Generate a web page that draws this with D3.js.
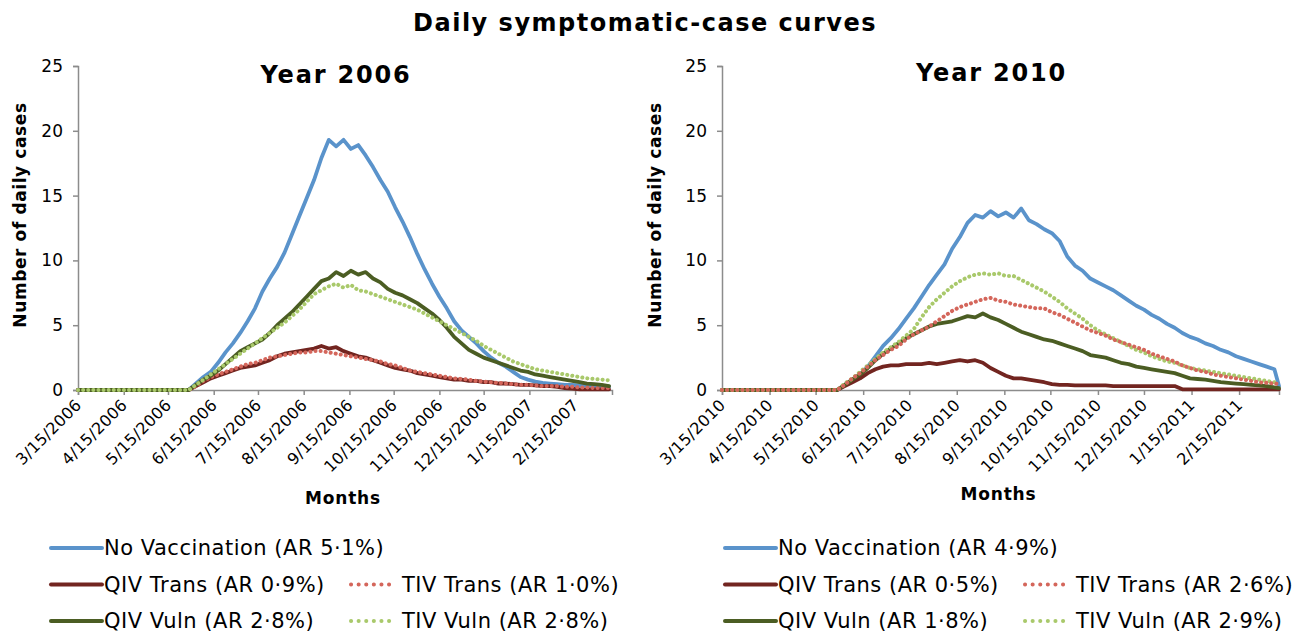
<!DOCTYPE html>
<html>
<head>
<meta charset="utf-8">
<script src="https://cdn.jsdelivr.net/npm/d3@7"></script>
<style>
  body { margin: 0; background: #fff; }
  svg { display: block; font-family: "DejaVu Sans", sans-serif; }
</style>
</head>
<body>
<script>
// days after 3/15 of each season
const days2006 = [0,75,80,85,90,95,100,105,110,115,120,125,130,135,140,145,150,155,160,165,170,175,180,185,190,195,200,205,210,215,220,225,230,235,240,245,250,255,260,265,270,275,280,285,290,295,300,305,310,315,320,325,330,335,340,345,350,355,360];
const days2010 = [0,75,80,85,90,95,100,105,110,115,120,125,130,135,140,145,150,155,160,165,170,175,180,185,190,195,200,205,210,215,220,225,230,235,240,245,250,255,260,265,270,275,280,285,290,295,300,305,310,315,320,325,330,335,340,345,350,355,360,363];

const noVacc2006 = [0,0,0.5,1.0,1.4,2.1,2.9,3.6,4.4,5.3,6.3,7.6,8.6,9.5,10.6,12.0,13.4,14.8,16.2,17.9,19.3,18.8,19.3,18.6,18.9,18.1,17.2,16.2,15.3,14.1,13.0,11.8,10.5,9.3,8.2,7.2,6.3,5.3,4.6,4.1,3.6,3.0,2.5,2.1,1.8,1.4,1.0,0.8,0.65,0.55,0.5,0.45,0.4,0.4,0.35,0.35,0.3,0.3,0.25];
const qivTrans2006 = [0,0,0.3,0.6,0.9,1.1,1.3,1.5,1.7,1.8,1.9,2.1,2.3,2.6,2.8,2.9,3.0,3.1,3.2,3.4,3.2,3.3,3.0,2.8,2.6,2.5,2.3,2.1,1.9,1.7,1.6,1.5,1.3,1.2,1.1,1.0,0.9,0.8,0.8,0.7,0.7,0.6,0.6,0.5,0.5,0.45,0.4,0.4,0.35,0.3,0.3,0.25,0.15,0.1,0.05,0.05,0.05,0.05,0.05];
const tivTrans2006 = [0,0,0.3,0.7,1.0,1.2,1.4,1.6,1.8,2.0,2.1,2.3,2.5,2.6,2.7,2.8,2.9,2.9,3.0,3.0,2.9,2.8,2.7,2.6,2.5,2.4,2.3,2.2,2.0,1.9,1.7,1.5,1.4,1.3,1.2,1.1,1.0,0.9,0.85,0.8,0.7,0.65,0.6,0.55,0.5,0.45,0.4,0.4,0.35,0.3,0.3,0.3,0.25,0.25,0.2,0.2,0.15,0.15,0.15];
const qivVuln2006 = [0,0,0.4,0.8,1.1,1.5,2.0,2.5,3.0,3.3,3.6,3.9,4.4,5.0,5.5,6.0,6.6,7.2,7.8,8.4,8.6,9.1,8.8,9.2,8.9,9.1,8.6,8.3,7.8,7.5,7.3,7.0,6.7,6.3,5.9,5.4,4.8,4.1,3.6,3.1,2.8,2.5,2.3,2.1,1.9,1.7,1.5,1.4,1.2,1.1,1.0,0.9,0.8,0.7,0.6,0.5,0.45,0.4,0.3];
const tivVuln2006 = [0,0,0.4,0.8,1.2,1.6,2.0,2.4,2.8,3.2,3.6,4.0,4.4,4.8,5.2,5.7,6.2,6.8,7.4,7.7,8.0,8.2,7.9,8.1,7.7,7.6,7.4,7.2,7.0,6.8,6.6,6.4,6.2,5.9,5.6,5.3,5.0,4.7,4.4,4.1,3.8,3.4,3.1,2.8,2.5,2.2,2.0,1.8,1.6,1.5,1.4,1.3,1.2,1.1,1.0,0.9,0.85,0.8,0.75];

const noVacc2010 = [0,0,0.4,0.8,1.2,1.8,2.6,3.4,4.0,4.7,5.5,6.3,7.2,8.1,8.9,9.7,10.9,11.8,12.9,13.5,13.3,13.8,13.4,13.7,13.3,14.0,13.1,12.8,12.4,12.1,11.5,10.3,9.6,9.2,8.6,8.3,8.0,7.7,7.3,6.9,6.5,6.2,5.8,5.5,5.1,4.8,4.4,4.1,3.9,3.6,3.4,3.1,2.9,2.6,2.4,2.2,2.0,1.8,1.6,0.3];
const qivTrans2010 = [0,0,0.3,0.6,0.9,1.3,1.6,1.8,1.9,1.9,2.0,2.0,2.0,2.1,2.0,2.1,2.2,2.3,2.2,2.3,2.1,1.7,1.4,1.1,0.9,0.9,0.8,0.7,0.6,0.45,0.4,0.4,0.35,0.35,0.35,0.35,0.35,0.3,0.3,0.3,0.3,0.3,0.3,0.3,0.3,0.3,0.05,0.05,0.05,0.05,0.05,0.05,0.05,0.05,0.05,0.05,0.05,0.05,0.05,0.05];
const tivTrans2010 = [0,0,0.4,0.9,1.3,1.8,2.3,2.7,3.1,3.4,3.9,4.3,4.6,4.9,5.3,5.7,6.1,6.4,6.6,6.8,7.0,7.1,6.9,6.8,6.6,6.5,6.4,6.3,6.3,6.0,5.8,5.5,5.2,4.9,4.6,4.4,4.2,3.9,3.7,3.5,3.3,3.1,2.8,2.6,2.4,2.2,1.9,1.7,1.5,1.4,1.2,1.1,1.0,0.9,0.8,0.7,0.6,0.55,0.5,0.45];
const qivVuln2010 = [0,0,0.4,0.8,1.2,1.7,2.3,2.8,3.2,3.6,4.0,4.3,4.6,4.9,5.1,5.2,5.3,5.5,5.7,5.6,5.9,5.6,5.4,5.1,4.8,4.5,4.3,4.1,3.9,3.8,3.6,3.4,3.2,3.0,2.7,2.6,2.5,2.3,2.1,2.0,1.8,1.7,1.6,1.5,1.4,1.3,1.1,0.9,0.85,0.8,0.7,0.6,0.55,0.5,0.45,0.4,0.35,0.3,0.2,0.15];
const tivVuln2010 = [0,0,0.5,0.9,1.4,1.9,2.4,2.9,3.3,3.7,4.2,4.7,5.6,6.4,7.0,7.5,8.0,8.4,8.7,8.9,9.0,8.9,9.0,8.8,8.8,8.5,8.2,7.9,7.6,7.2,6.8,6.3,5.9,5.5,5.0,4.6,4.3,4.0,3.7,3.4,3.1,2.9,2.6,2.4,2.2,2.1,1.9,1.7,1.6,1.5,1.4,1.3,1.2,1.1,1.0,0.9,0.8,0.7,0.6,0.5];

const ticks2006 = ["3/15/2006","4/15/2006","5/15/2006","6/15/2006","7/15/2006","8/15/2006","9/15/2006","10/15/2006","11/15/2006","12/15/2006","1/15/2007","2/15/2007"];
const ticks2010 = ["3/15/2010","4/15/2010","5/15/2010","6/15/2010","7/15/2010","8/15/2010","9/15/2010","10/15/2010","11/15/2010","12/15/2010","1/15/2011","2/15/2011"];
const yTicks = [0, 5, 10, 15, 20, 25];

const legend2006 = ["No Vaccination (AR 5·1%)","QIV Trans (AR 0·9%)","TIV Trans (AR 1·0%)","QIV Vuln (AR 2·8%)","TIV Vuln (AR 2·8%)"];
const legend2010 = ["No Vaccination (AR 4·9%)","QIV Trans (AR 0·5%)","TIV Trans (AR 2·6%)","QIV Vuln (AR 1·8%)","TIV Vuln (AR 2·9%)"];

const styles = [
  {color: "#5a93cb", dotted: false},
  {color: "#722520", dotted: false},
  {color: "#d4665b", dotted: true},
  {color: "#4b5d23", dotted: false},
  {color: "#a9c96b", dotted: true}
];

const parse = d3.utcParse("%m/%d/%Y");
const DAY = 864e5;

const panels = [
  {title: "Year 2006", start: parse("3/15/2006"), endDay: 362, x0: 78, x1: 612, days: days2006,
   values: [noVacc2006, qivTrans2006, tivTrans2006, qivVuln2006, tivVuln2006], order: [0, 1, 2, 3, 4],
   ticks: ticks2006, legend: legend2006, ylab: 26, titleY: 83, monthsY: 504, lx: 50},
  {title: "Year 2010", start: parse("3/15/2010"), endDay: 363, x0: 722, x1: 1279, days: days2010,
   values: [noVacc2010, qivTrans2010, tivTrans2010, qivVuln2010, tivVuln2010], order: [0, 1, 3, 4, 2],
   ticks: ticks2010, legend: legend2010, ylab: 661, titleY: 81, monthsY: 500, lx: 724}
];

const svg = d3.select("body").append("svg")
    .attr("width", 1304)
    .attr("height", 635);

svg.append("rect").attr("width", 1304).attr("height", 635).attr("fill", "#fff");

svg.append("text")
    .attr("x", 645).attr("y", 31)
    .attr("text-anchor", "middle")
    .style("font-size", "24px").style("font-weight", "bold").style("letter-spacing", "1.5px")
    .text("Daily symptomatic-case curves");

const y = d3.scaleLinear().domain([0, 25]).range([390, 66]);

for (const p of panels) {
  const x = d3.scaleUtc()
      .domain([p.start, new Date(+p.start + p.endDay * DAY)])
      .range([p.x0, p.x1]);

  const g = svg.append("g");

  g.append("text")
      .attr("x", (p.x0 + p.x1) / 2 - 9).attr("y", p.titleY)
      .attr("text-anchor", "middle")
      .style("font-size", "24px").style("font-weight", "bold").style("letter-spacing", "1.8px")
      .text(p.title);

  const yAxis = g.append("g")
      .attr("transform", `translate(${p.x0},0)`)
      .call(d3.axisLeft(y).tickValues(yTicks).tickSize(5).tickPadding(10));

  const tickDates = p.ticks.map(parse);
  const xAxis = g.append("g")
      .attr("transform", "translate(0,390)")
      .call(d3.axisBottom(x).tickValues(tickDates).tickSize(5).tickSizeOuter(5)
        .tickFormat((d, i) => p.ticks[i]));

  for (const ax of [yAxis, xAxis]) {
    ax.select(".domain").attr("stroke", "#8c8c8c").attr("stroke-width", 1.5);
    ax.selectAll(".tick line").attr("stroke", "#8c8c8c").attr("stroke-width", 1.5);
    ax.selectAll("text").attr("fill", "#000").style("font-family", "DejaVu Sans, sans-serif");
  }
  yAxis.selectAll("text").style("font-size", "17px");
  xAxis.selectAll("text")
      .style("font-size", "16px").style("letter-spacing", "0.3px")
      .attr("text-anchor", "end")
      .attr("x", 0).attr("y", 0).attr("dy", "0.35em")
      .attr("transform", "translate(0,12) rotate(-45)");

  g.append("text")
      .attr("transform", `translate(${p.ylab},215) rotate(-90)`)
      .attr("text-anchor", "middle")
      .style("font-size", "17px").style("font-weight", "bold").style("letter-spacing", "0.6px")
      .text("Number of daily cases");

  g.append("text")
      .attr("x", (p.x0 + p.x1) / 2 - 2).attr("y", p.monthsY)
      .attr("text-anchor", "middle")
      .style("font-size", "17px").style("font-weight", "bold").style("letter-spacing", "0.8px")
      .text("Months");

  const line = d3.line()
      .x(d => x(new Date(+p.start + d[0] * DAY)))
      .y(d => y(d[1]));

  for (const k of p.order) {
    const s = styles[k];
    const pts = p.days.map((d, i) => [d, p.values[k][i]]);
    g.append("path")
        .datum(pts)
        .attr("fill", "none")
        .attr("stroke", s.color)
        .attr("stroke-width", s.dotted ? 4 : 3.8)
        .attr("stroke-linejoin", "round")
        .attr("stroke-linecap", "round")
        .attr("stroke-dasharray", s.dotted ? "0.1 5" : null)
        .attr("d", line);
  }

  // legend
  const rows = [
    {k: 0, col: 0, row: 0},
    {k: 1, col: 0, row: 1},
    {k: 2, col: 1, row: 1},
    {k: 3, col: 0, row: 2},
    {k: 4, col: 1, row: 2}
  ];
  const leg = g.append("g").attr("transform", `translate(${p.lx},0)`);
  for (const r of rows) {
    const s = styles[r.k];
    const ly = 548 + r.row * 36.5;
    const lx = r.col === 0 ? 0 : 300;
    const len = r.col === 0 ? 52 : 44;
    leg.append("line")
        .attr("x1", lx + 1).attr("x2", lx + len)
        .attr("y1", ly).attr("y2", ly)
        .attr("stroke", s.color)
        .attr("stroke-width", 4)
        .attr("stroke-linecap", "round")
        .attr("stroke-dasharray", s.dotted ? "0.1 7.5" : null);
    leg.append("text")
        .attr("x", lx + len + (r.col === 0 ? 2 : 8)).attr("y", ly)
        .attr("dy", "0.35em")
        .style("font-size", "21px").style("letter-spacing", "0.5px")
        .text(p.legend[r.k]);
  }
}
</script>
</body>
</html>
